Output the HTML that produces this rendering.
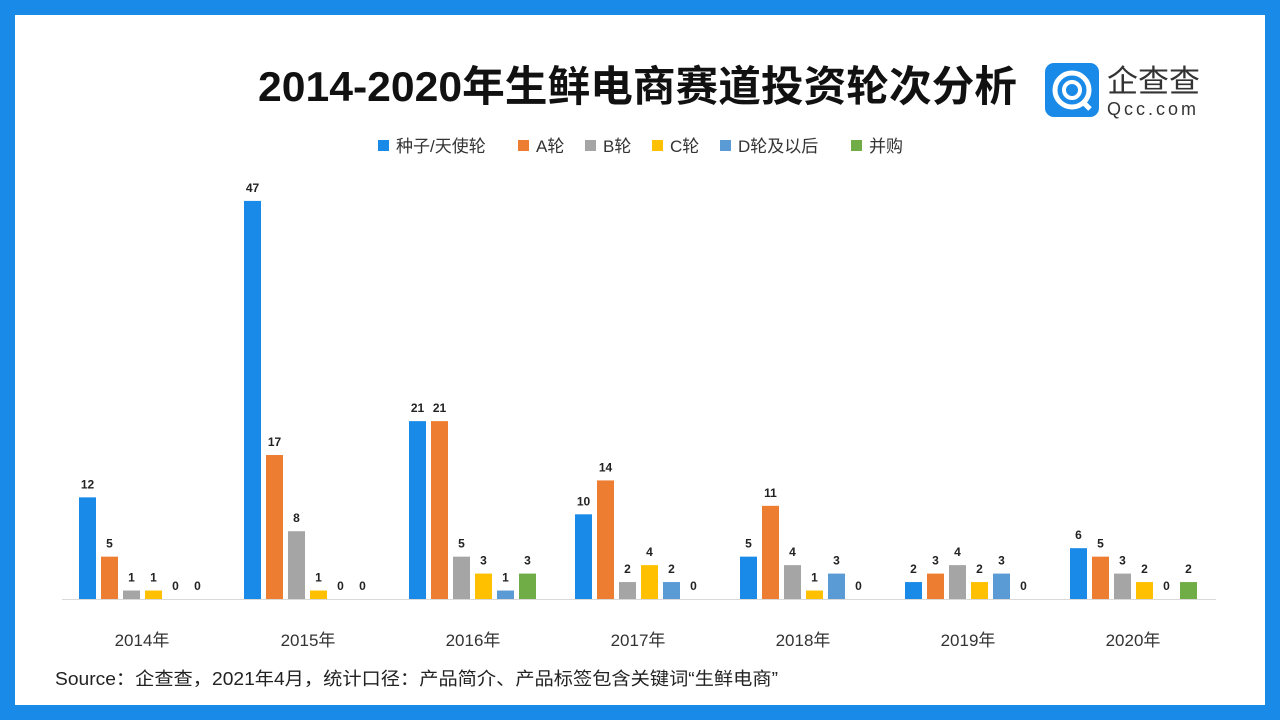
<!DOCTYPE html>
<html><head><meta charset="utf-8"><style>
html,body{margin:0;padding:0;}
body{width:1280px;height:720px;background:#1a8ae8;position:relative;overflow:hidden;font-family:"Liberation Sans","Noto Sans CJK SC",sans-serif;}
.in{position:absolute;left:15px;top:15px;width:1250px;height:690px;background:#fff;}
</style></head><body>
<div class="in"></div>
<svg width="1280" height="720" style="position:absolute;left:0;top:0" font-family="Liberation Sans, Noto Sans CJK SC, sans-serif">
<text x="258" y="101" font-size="42" font-weight="bold" fill="#111" textLength="759" lengthAdjust="spacingAndGlyphs">2014-2020年生鲜电商赛道投资轮次分析</text>
<rect x="1045" y="63" width="54" height="54" rx="9" fill="#1a8ae8"/>
<circle cx="1072" cy="90" r="17" fill="none" stroke="#fff" stroke-width="5"/>
<circle cx="1072" cy="90" r="8" fill="none" stroke="#fff" stroke-width="4"/>
<line x1="1082" y1="101" x2="1090" y2="109" stroke="#fff" stroke-width="5"/>
<text x="1107" y="92" font-size="31" fill="#333">企查查</text>
<text x="1107" y="115" font-size="18" fill="#333" letter-spacing="3">Qcc.com</text>
<g font-size="17" fill="#333">
<rect x="378" y="140" width="11" height="11" fill="#1a8ae8"/><text x="396" y="152">种子/天使轮</text>
<rect x="518" y="140" width="11" height="11" fill="#ed7d31"/><text x="536" y="152">A轮</text>
<rect x="585" y="140" width="11" height="11" fill="#a5a5a5"/><text x="603" y="152">B轮</text>
<rect x="652" y="140" width="11" height="11" fill="#ffc000"/><text x="670" y="152">C轮</text>
<rect x="720" y="140" width="11" height="11" fill="#5b9bd5"/><text x="738" y="152">D轮及以后</text>
<rect x="851" y="140" width="11" height="11" fill="#70ad47"/><text x="869" y="152">并购</text>
</g>
<line x1="62" y1="599.5" x2="1216" y2="599.5" stroke="#d9d9d9" stroke-width="1"/>
<g id="bars"></g>
<g font-size="17" fill="#333" text-anchor="middle">
<text x="142" y="646">2014年</text><text x="308" y="646">2015年</text><text x="473" y="646">2016年</text><text x="638" y="646">2017年</text><text x="803" y="646">2018年</text><text x="968" y="646">2019年</text><text x="1133" y="646">2020年</text>
</g>
<text x="55" y="685" font-size="18" fill="#222" textLength="723" lengthAdjust="spacingAndGlyphs">Source：企查查，2021年4月，统计口径：产品简介、产品标签包含关键词“生鲜电商”</text>
</svg>
<script>
var d=[[12,5,1,1,0,0],[47,17,8,1,0,0],[21,21,5,3,1,3],[10,14,2,4,2,0],[5,11,4,1,3,0],[2,3,4,2,3,0],[6,5,3,2,0,2]];
var c=["#1a8ae8","#ed7d31","#a5a5a5","#ffc000","#5b9bd5","#70ad47"];
var s=[79,244,409,575,740,905,1070],h="";
for(var i=0;i<7;i++)for(var j=0;j<6;j++){var v=d[i][j],x=s[i]+22*j,hh=v*8.47,y=599-hh;
if(v>0)h+='<rect x="'+x+'" y="'+y+'" width="17" height="'+hh+'" fill="'+c[j]+'"/>';
h+='<text x="'+(x+8.5)+'" y="'+(y-9)+'" font-size="12" font-weight="bold" fill="#222" text-anchor="middle">'+v+'</text>';}
document.getElementById("bars").innerHTML=h;
</script>
</body></html>
